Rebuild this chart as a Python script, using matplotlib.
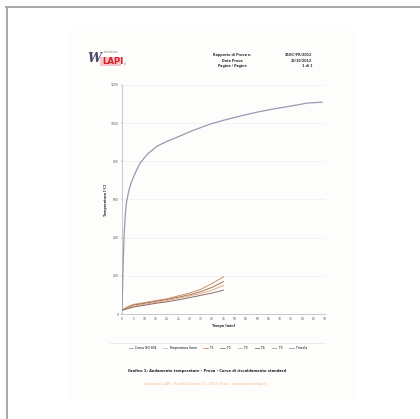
import numpy as np
import matplotlib
matplotlib.use('Agg')
import matplotlib.pyplot as plt
from matplotlib.patches import Rectangle
from matplotlib.lines import Line2D

# furnace curve (time in min, temperature in C)
t_forno = [0, 0.3, 0.6, 1.0, 1.5, 2.0, 3.0, 4.0, 5.0, 6.5, 8, 10, 12, 15.5, 20, 24.4, 30, 39, 45, 52.3, 60, 67, 75, 82, 88.7]
T_forno = [20, 160, 300, 430, 525, 585, 645, 685, 715, 755, 790, 820, 845, 879, 905, 926, 955, 995, 1015, 1037, 1058, 1074, 1090, 1105, 1110]

# specimen thermocouples
t_prov = [0, 2, 5, 10, 15, 20, 25, 30, 35, 40, 45]
T1 = [20, 35, 50, 60, 70, 80, 95, 110, 130, 160, 195]
T2 = [20, 32, 46, 56, 66, 76, 88, 101, 118, 140, 170]
T3 = [20, 29, 41, 51, 61, 71, 82, 95, 108, 125, 150]
T4 = [20, 26, 36, 46, 56, 64, 74, 86, 98, 110, 125]

x_ticks = list(range(0, 95, 5))
y_ticks = list(range(0, 1400, 200))
legend_labels = ['Curva ISO 834', 'Temperatura forno', 'T 1', 'T 2', 'T 3', 'T 4', 'T 5', 'T media']

W, H = 420, 419
fig = plt.figure(figsize=(W / 100, H / 100), dpi=100)
fig.patch.set_facecolor('white')

def fx(px):
    return px / W

def fy(py):
    return 1 - py / H

# page frame and faint document area
fig.add_artist(Line2D([fx(6), 1], [fy(7), fy(7)], color='#a8a8a8', lw=1.4))
fig.add_artist(Line2D([fx(6.5), fx(6.5)], [fy(7), 0], color='#a8a8a8', lw=1.4))
fig.add_artist(Rectangle((fx(70), fy(400)), fx(355) - fx(70), fy(30) - fy(400),
                         facecolor='#fdfdfc', edgecolor='none', zorder=0))

# logo
fig.text(fx(87), fy(58), 'W', color='#4a4a66', fontsize=9, fontweight='bold',
         fontstyle='italic', va='center', ha='left', family='DejaVu Serif')
fig.text(fx(104), fy(52), 'Laboratorio', color='#777788', fontsize=1.8, va='center')
fig.add_artist(Rectangle((fx(100), fy(66)), fx(21), fy(57) - fy(66),
                         facecolor='#f6c4ca', edgecolor='none', zorder=1))
fig.text(fx(102), fy(61.5), 'LAPI', color='#d8202a', fontsize=6.2, fontweight='bold',
         va='center', ha='left', zorder=2)
fig.text(fx(124), fy(64), 'srl', color='#777788', fontsize=1.8, va='center')

# header text
hdr_c = ['Rapporto di Prova n.', 'Data Prova', 'Pagina / Pagine']
for i, s in enumerate(hdr_c):
    fig.text(fx(232), fy(55 + 5.5 * i), s, fontsize=2.4, fontweight='bold',
             ha='center', va='center', color='#333333')
hdr_r = ['250/C/FR/2012', '23/10/2012', '1 di 1']
for i, s in enumerate(hdr_r):
    fig.text(fx(312), fy(55 + 5.5 * i), s, fontsize=2.4, fontweight='bold',
             ha='right', va='center', color='#333333')

# chart
ax = fig.add_axes([fx(122), fy(314), fx(325) - fx(122), fy(85) - fy(314)])
ax.set_facecolor('none')
ax.plot(t_forno, T_forno, color='#9a98b0', lw=0.9, zorder=5)
ax.plot(t_prov, T1, color='#c9926a', lw=0.7, zorder=4)
ax.plot(t_prov, T2, color='#a7705a', lw=0.7, zorder=4)
ax.plot(t_prov, T3, color='#dcae82', lw=0.7, zorder=4)
ax.plot(t_prov, T4, color='#8c6a64', lw=0.7, zorder=4)

ax.set_xlim(0, 90)
ax.set_ylim(0, 1200)
ax.set_xticks(x_ticks)
ax.set_yticks(y_ticks)
ax.tick_params(labelsize=2.2, length=1, width=0.3, pad=1.5, colors='#555555')
for s in ['top', 'right']:
    ax.spines[s].set_visible(False)
for s in ['left', 'bottom']:
    ax.spines[s].set_color('#b8b8b8')
    ax.spines[s].set_linewidth(0.5)
ax.yaxis.grid(True, color='#f0f0f0', lw=0.5)
ax.set_xlabel('Tempo [min]', fontsize=2.4, fontweight='bold', labelpad=1.5, color='#333333')
ax.set_ylabel('Temperatura [°C]', fontsize=2.4, fontweight='bold', labelpad=2, color='#333333')

# legend
handles = [Line2D([], [], color=c, lw=0.6) for c in
           ['#9a98b0', '#c0c0d0', '#c9926a', '#a7705a', '#dcae82', '#8c6a64', '#b89080', '#999999']]
fig.add_artist(Line2D([fx(110), fx(325)], [fy(343), fy(343)], color='#e4e4e4', lw=0.5))
fig.legend(handles, legend_labels, loc='center', bbox_to_anchor=(fx(218), fy(348)),
           ncol=8, fontsize=2.2, frameon=False, handlelength=1.5, columnspacing=2.2,
           handletextpad=0.4)

# caption
fig.text(fx(207), fy(371), 'Grafico 1: Andamento temperature - Prova - Curva di riscaldamento standard',
         fontsize=2.6, fontweight='bold', ha='center', va='center', color='#222222')
fig.text(fx(205), fy(384), 'Laboratorio LAPI - Via della Quercia 11 - 59100 Prato - www.laboratoriolapi.it',
         fontsize=2.3, ha='center', va='center', color='#f2b98a')

fig.savefig('out.png', dpi=100)
